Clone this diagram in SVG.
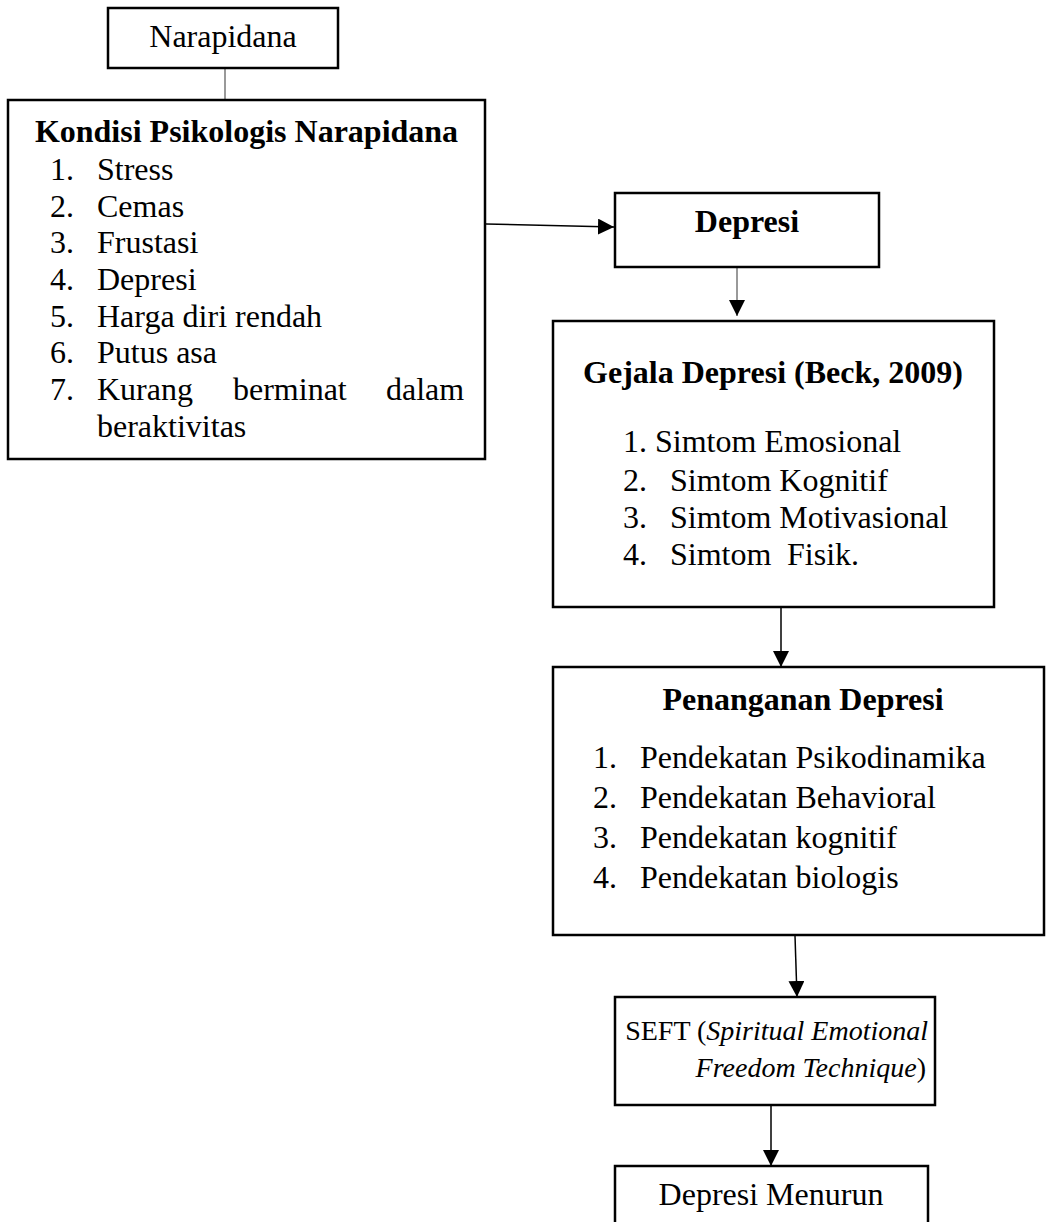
<svg xmlns="http://www.w3.org/2000/svg" width="1046" height="1222" viewBox="0 0 1046 1222">
<style>
  .box { fill: #fff; stroke: #000; stroke-width: 2.5; }
  .t { font-family: "Liberation Serif", "Times New Roman", serif; font-size: 32px; fill: #000; }
  .s { font-size: 28px; }
  .b { font-weight: bold; }
  .c { text-anchor: middle; }
  .e { text-anchor: end; }
  .i { font-style: italic; }
  .conn { stroke: #000; stroke-width: 1.5; fill: none; }
  .gray { stroke: #999; stroke-width: 2; fill: none; }
</style>
<defs>
  <marker id="arr" markerUnits="userSpaceOnUse" markerWidth="17" markerHeight="16" refX="16" refY="8" orient="auto">
    <path d="M0,0 L16,8 L0,16 Z" fill="#000"/>
  </marker>
</defs>
<rect width="1046" height="1222" fill="#fff"/>

<g id="connectors">
  <line class="gray" x1="225" y1="68" x2="225" y2="100"/>
  <line class="conn" x1="486" y1="224" x2="614" y2="227" marker-end="url(#arr)"/>
  <line class="gray" x1="737" y1="267" x2="737" y2="316" marker-end="url(#arr)"/>
  <line class="conn" x1="781" y1="607" x2="781" y2="667" marker-end="url(#arr)"/>
  <line class="conn" x1="795" y1="936" x2="797" y2="997" marker-end="url(#arr)"/>
  <line class="conn" x1="771" y1="1105" x2="771" y2="1166" marker-end="url(#arr)"/>
</g>

<g id="node-narapidana">
  <rect class="box" x="108" y="8" width="230" height="60"/>
  <text class="t c" x="223" y="47">Narapidana</text>
</g>

<g id="node-kondisi">
  <rect class="box" x="8" y="100" width="477" height="359"/>
  <text class="t b c" x="246.5" y="142">Kondisi Psikologis Narapidana</text>
  <text class="t" x="50" y="180">1.</text><text class="t" x="97" y="180">Stress</text>
  <text class="t" x="50" y="217">2.</text><text class="t" x="97" y="217">Cemas</text>
  <text class="t" x="50" y="253">3.</text><text class="t" x="97" y="253">Frustasi</text>
  <text class="t" x="50" y="290">4.</text><text class="t" x="97" y="290">Depresi</text>
  <text class="t" x="50" y="327">5.</text><text class="t" x="97" y="327">Harga diri rendah</text>
  <text class="t" x="50" y="363">6.</text><text class="t" x="97" y="363">Putus asa</text>
  <text class="t" x="50" y="400">7.</text>
  <text class="t" y="400"><tspan x="97">Kurang</tspan><tspan x="233">berminat</tspan><tspan x="386">dalam</tspan></text>
  <text class="t" x="97" y="437">beraktivitas</text>
</g>

<g id="node-depresi">
  <rect class="box" x="615" y="193" width="264" height="74"/>
  <text class="t b c" x="747" y="232">Depresi</text>
</g>

<g id="node-gejala">
  <rect class="box" x="553" y="321" width="441" height="286"/>
  <text class="t b c" x="773" y="383">Gejala Depresi (Beck, 2009)</text>
  <text class="t" x="623" y="452">1.</text><text class="t" x="655" y="452">Simtom Emosional</text>
  <text class="t" x="623" y="491">2.</text><text class="t" x="670" y="491">Simtom Kognitif</text>
  <text class="t" x="623" y="528">3.</text><text class="t" x="670" y="528">Simtom Motivasional</text>
  <text class="t" x="623" y="565">4.</text><text class="t" y="565"><tspan x="670">Simtom</tspan><tspan x="787">Fisik.</tspan></text>
</g>

<g id="node-penanganan">
  <rect class="box" x="553" y="667" width="491" height="268"/>
  <text class="t b c" x="803" y="710">Penanganan Depresi</text>
  <text class="t" x="593" y="768">1.</text><text class="t" x="640" y="768">Pendekatan Psikodinamika</text>
  <text class="t" x="593" y="808">2.</text><text class="t" x="640" y="808">Pendekatan Behavioral</text>
  <text class="t" x="593" y="848">3.</text><text class="t" x="640" y="848">Pendekatan kognitif</text>
  <text class="t" x="593" y="888">4.</text><text class="t" x="640" y="888">Pendekatan biologis</text>
</g>

<g id="node-seft">
  <rect class="box" x="615" y="997" width="320" height="108"/>
  <text class="t s e" x="928" y="1040">SEFT (<tspan class="i">Spiritual Emotional</tspan></text>
  <text class="t s e" x="926" y="1077"><tspan class="i">Freedom Technique</tspan>)</text>
</g>

<g id="node-menurun">
  <path class="box" d="M615,1230 L615,1166 L928,1166 L928,1230"/>
  <text class="t c" x="771" y="1205">Depresi Menurun</text>
</g>
</svg>
